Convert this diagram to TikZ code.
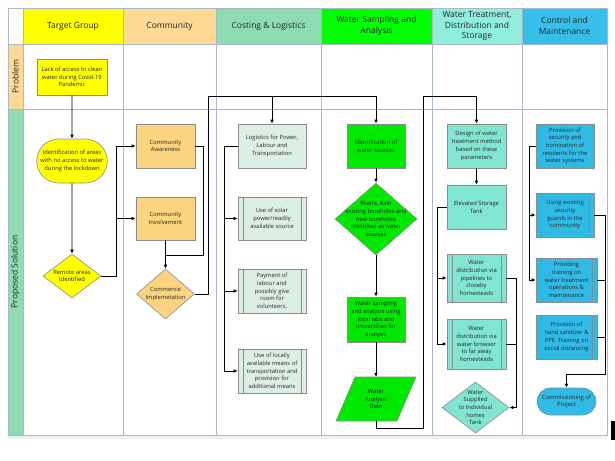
\documentclass[tikz,border=0pt]{standalone}
\usepackage{fontspec}
\setmainfont{Open Sans}
\usetikzlibrary{shapes.geometric,shapes.misc,arrows.meta}
\definecolor{gridc}{HTML}{A9B9C9}
\definecolor{bordc}{HTML}{8C8C8C}
\definecolor{cyel}{HTML}{FFFF00}
\definecolor{corgh}{HTML}{FDD993}
\definecolor{corg}{HTML}{FBD480}
\definecolor{cminth}{HTML}{8FDCB3}
\definecolor{clogi}{HTML}{DBEFE5}
\definecolor{cgrnh}{HTML}{00FF00}
\definecolor{cgrn}{HTML}{00E800}
\definecolor{caquah}{HTML}{91EDDC}
\definecolor{caqua}{HTML}{80E6D2}
\definecolor{cblueh}{HTML}{36C0E9}
\definecolor{cblue}{HTML}{30BBE6}
\tikzset{
  txt/.style={align=center, font=\fontsize{5.8}{7.7}\selectfont, inner sep=1pt, text=black!85},
  boxn/.style={txt, draw=bordc, line width=0.6pt, rectangle},
  prep/.style={boxn, path picture={
      \draw[bordc, line width=0.5pt]
        ([xshift=5pt]path picture bounding box.north west) -- ([xshift=5pt]path picture bounding box.south west)
        ([xshift=-5pt]path picture bounding box.north east) -- ([xshift=-5pt]path picture bounding box.south east);}},
  dia/.style={diamond, draw=bordc, line width=0.6pt, inner sep=0pt},
  stad/.style={txt, rounded rectangle, draw=bordc, line width=0.6pt},
  hdr/.style={align=center, font=\fontsize{8.5}{10.5}\selectfont, inner sep=0pt, text=black!85},
  ln/.style={line width=0.8pt, black},
  arr/.style={ln, -{Latex[length=4pt,width=3.6pt]}},
}
\begin{document}
\begin{tikzpicture}[x=1pt,y=-1pt]
\useasboundingbox (0,0) rectangle (615,460);
\fill[white] (0,0) rectangle (615,460);
% ---- table fills
\fill[cyel] (23,8) rectangle (123,44);
\fill[corgh] (123,8) rectangle (216,44);
\fill[cminth] (216,8) rectangle (321,44);
\fill[cgrnh] (321,8) rectangle (432,44);
\fill[caquah] (432,8) rectangle (522,44);
\fill[cblueh] (522,8) rectangle (607,44);
\fill[corgh] (8,44) rectangle (23,109);
\fill[cminth] (8,109) rectangle (23,435);
\fill[black!6] (8,435) rectangle (607,439);
% ---- grid
\draw[gridc, line width=0.6pt] (8,8) rectangle (607,435);
\draw[gridc, line width=0.6pt] (8,44) -- (607,44) (8,109) -- (607,109);
\foreach \xx in {23,123,216,321,432,522} \draw[gridc, line width=0.6pt] (\xx,8) -- (\xx,435);
% ---- headers
\node[hdr] (hTG) at (73,26) {Target Group};
\node[hdr] (hCO) at (169.5,26) {Community};
\node[hdr] (hCL) at (268.5,26) {Costing \& Logistics};
\node[hdr] (hWS) at (376.5,26) {Water Sampling and\\Analysis};
\node[hdr] (hWT) at (477,26) {Water Treatment,\\Distribution and\\Storage};
\node[hdr] (hCM) at (564.5,26) {Control and\\Maintenance};
\node[hdr, rotate=90] (rP) at (15.5,76.5) {Problem};
\node[hdr, rotate=90] (rS) at (15.5,272) {Proposed Solution};
% ---- Target group
\node[boxn, fill=cyel, minimum width=70pt, minimum height=36pt] (lack) at (72,77) {Lack of access to clean\\water during Covid-19\\Pandemic};
\node[stad, fill=cyel, minimum width=70pt, minimum height=44pt] (idarea) at (72,161) {Identification of areas\\with no access to water\\during the lockdown};
\node[dia, fill=cyel, minimum width=58pt, minimum height=44pt] (remote) at (72,276) {};
\node[txt] (remoteT) at (72,276) {Remote areas\\Identified};
% ---- Community
\node[boxn, fill=corg, minimum width=59pt, minimum height=44pt] (caware) at (165.5,146) {Community\\Awareness};
\node[boxn, fill=corg, minimum width=59pt, minimum height=43pt] (cinv) at (165.5,218.5) {Community\\Involvement};
\node[dia, fill=corg, minimum width=58pt, minimum height=50pt] (cimpl) at (165.5,294) {};
\node[txt] (cimplT) at (165.5,294) {Commence\\Implemetation};
% ---- Costing
\node[boxn, fill=clogi, minimum width=68pt, minimum height=44pt] (logi) at (272,146) {Logistics for Power,\\Labour and\\Transportation};
\node[prep, fill=clogi, minimum width=68pt, minimum height=43pt] (solar) at (272,218.5) {Use of solar\\power/readily\\available source};
\node[prep, fill=clogi, minimum width=68pt, minimum height=44pt] (pay) at (272,291) {Payment of\\labour and\\possibly give\\room for\\volunteers.};
\node[prep, fill=clogi, minimum width=68pt, minimum height=44pt] (local) at (272,371) {Use of locally\\available means of\\transportation and\\provision for\\additional means};
% ---- Water sampling
\node[boxn, fill=cgrn, minimum width=58pt, minimum height=44pt] (idws) at (376,146) {Identification of\\water sources};
\node[dia, fill=cgrn, minimum width=82pt, minimum height=72pt] (rivers) at (376,219) {};
\node[txt] (riversT) at (376,219) {Rivers, Rain\\existing boreholes and\\new boreholes\\identified as water\\sources};
\node[boxn, fill=cgrn, minimum width=58pt, minimum height=45pt] (wsamp) at (376,319.5) {Water sampling\\and analysis using\\local labs and\\universities for\\analysis};
\draw[bordc, fill=cgrn, line width=0.6pt] (355,377) -- (416,377) -- (397,421) -- (336,421) -- cycle;
\node[txt, minimum width=50pt, minimum height=44pt] (wad) at (376,399) {Water\\Analysis\\Data};
% ---- Water treatment
\node[boxn, fill=caqua, minimum width=59pt, minimum height=44pt] (design) at (476.5,146) {Design of water\\treatment method\\based on these\\parameters};
\node[boxn, fill=caqua, minimum width=59pt, minimum height=44pt] (elev) at (476.5,207) {Elevated Storage\\Tank};
\node[prep, fill=caqua, minimum width=59pt, minimum height=48pt] (wpipe) at (476.5,278) {Water\\distribution via\\pipelines to\\closeby\\homesteads};
\node[prep, fill=caqua, minimum width=59pt, minimum height=50pt] (wfar) at (476.5,344) {Water\\distribution via\\water browser\\to far away\\homesteads};
\node[dia, fill=caqua, minimum width=67pt, minimum height=51pt] (wtank) at (475.5,407.5) {};
\node[txt] (wtankT) at (475.5,407.5) {Water\\Supplied\\to Individual\\homes\\Tank};
% ---- Control
\node[boxn, fill=cblue, minimum width=58pt, minimum height=44pt] (prov) at (565,146) {Provision of\\security and\\nomination of\\residents for the\\water systems};
\node[prep, fill=cblue, minimum width=58pt, minimum height=44pt] (guard) at (565,215) {Using existing\\security\\guards in the\\community};
\node[prep, fill=cblue, minimum width=61pt, minimum height=44pt] (train) at (566.5,280) {Providing\\training on\\water treatment\\operations \&\\maintenance};
\node[prep, fill=cblue, minimum width=61pt, minimum height=44pt] (hand) at (566.5,337) {Provision of\\hand sanitizer \&\\PPE. Training on\\social distancing};
\node[stad, fill=cblue, minimum width=61pt, minimum height=27pt] (comm) at (566.5,401.5) {Commissioning of\\Project};
% ---- connectors: target group / community
\draw[arr] (lack) -- (idarea);
\draw[arr] (idarea) -- (remote);
\draw[arr] (remote.east) -| (116,146) -- (caware.west);
\draw[arr] (116,218.5) -- (cinv.west);
\draw[ln] (caware.east) -| (203,255) -- (165.5,255);
\draw[arr] (cinv) -- (cimpl);
% ---- to costing and sampling
\draw[arr] (cimpl.east) -| (208,96) -| (idws.north);
\draw[arr] (272,96) -- (logi.north);
\draw[arr] (logi.west) -| (224,371) -- (local.west);
\draw[arr] (224,218.5) -- (solar.west);
\draw[arr] (224,291) -- (pay.west);
% ---- sampling chain
\draw[arr] (idws) -- (rivers);
\draw[arr] (rivers) -- (wsamp);
\draw[arr] (wsamp.south) -- (376,377);
\draw[arr] (376,421) |- (423,428) -- (423,96) -| (design.north);
% ---- treatment
\draw[arr] (design) -- (elev);
\draw[arr] (elev.west) -| (437,344) -- (wfar.west);
\draw[arr] (437,278) -- (wpipe.west);
\draw[arr] (wpipe.east) -| (516,407.5) -- (wtank.east);
\draw[ln] (wfar.east) -- (516,344);
% ---- control
\draw[arr] (prov.west) -| (529,280) -- (train.west);
\draw[arr] (529,215) -- (guard.west);
\draw[arr] (guard.east) -| (605,374) -| (comm.north);
\draw[ln] (train.east) -- (605,280);
\draw[ln] (hand.east) -- (605,337);
% ---- stray mark at right edge
\fill[black] (611,421) rectangle (615,440);
\end{tikzpicture}
\end{document}
